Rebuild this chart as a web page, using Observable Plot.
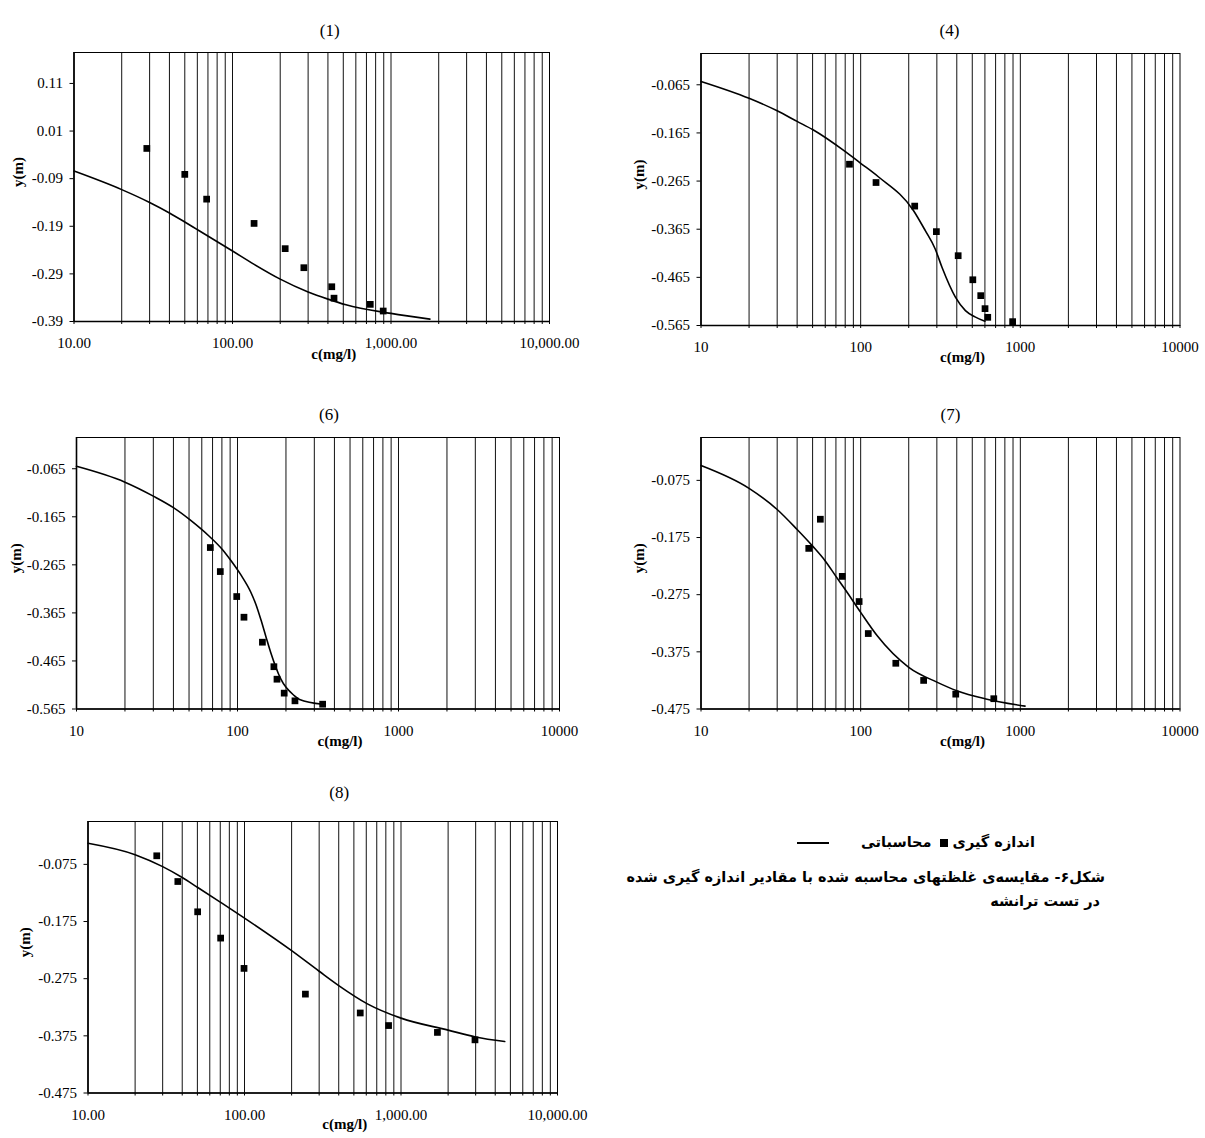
<!DOCTYPE html>
<html>
<head>
<meta charset="utf-8">
<script src="https://cdn.jsdelivr.net/npm/d3@7"></script>
<script src="https://cdn.jsdelivr.net/npm/@observablehq/plot@0.6"></script>
<style>
  html, body { margin: 0; padding: 0; background: #fff; }
  #root { position: relative; width: 1205px; height: 1138px; background: #fff; overflow: hidden; }
  #root svg { position: absolute; }
  .fa { position: absolute; direction: rtl; white-space: nowrap; font-family: "DejaVu Sans", sans-serif; font-weight: bold; font-size: 14.5px; color: #000; }
  .sq { display: inline-block; width: 8px; height: 8px; background: #000; vertical-align: middle; }
  .ln { display: inline-block; width: 32px; height: 0; border-top: 2px solid #000; vertical-align: middle; }
  .gap { display: inline-block; }
</style>
</head>
<body>
<div id="root"></div>
<script>
// ---------- shared axis values ----------
const xDecades = [10, 100, 1000, 10000];
const xGrid = [20, 30, 40, 50, 60, 70, 80, 90, 100, 200, 300, 400, 500, 600, 700, 800, 900, 1000,
               2000, 3000, 4000, 5000, 6000, 7000, 8000, 9000];
const xTicksAll = [10, ...xGrid, 10000];

// ---------- chart (1) ----------
const c1_meas = [28.8, 50, 68.7, 136.8, 215, 282, 423, 437, 740, 893];
const y1_meas = [-0.0265, -0.081, -0.133, -0.184, -0.237, -0.277, -0.317, -0.341, -0.354, -0.368];
const c1_calc = [10, 20, 30, 40, 50, 60, 100, 137, 200, 300, 400, 520, 1000, 1760];
const y1_calc = [-0.074, -0.113, -0.140, -0.162, -0.181, -0.197, -0.242, -0.270, -0.301, -0.328, -0.343, -0.355, -0.373, -0.385];
const y1_ticks = [-0.39, -0.29, -0.19, -0.09, 0.01, 0.11];

// ---------- chart (4) ----------
const c4_meas = [85.1, 124.8, 218, 298, 408, 504, 565, 601, 625, 895];
const y4_meas = [-0.230, -0.268, -0.317, -0.370, -0.420, -0.470, -0.503, -0.530, -0.548, -0.557];
const c4_calc = [10, 20, 30, 40, 50, 81, 100, 129, 214, 254, 293, 323, 392, 453, 520, 600];
const y4_calc = [-0.058, -0.093, -0.119, -0.141, -0.158, -0.205, -0.228, -0.256, -0.326, -0.368, -0.406, -0.444, -0.506, -0.534, -0.547, -0.556];
const y4_ticks = [-0.565, -0.465, -0.365, -0.265, -0.165, -0.065];

// ---------- chart (6) ----------
const c6_meas = [67.8, 78.2, 98.9, 109.7, 142.8, 168.3, 175.9, 195, 227.5, 338];
const y6_meas = [-0.229, -0.279, -0.331, -0.374, -0.426, -0.477, -0.503, -0.532, -0.548, -0.555];
const c6_calc = [10, 20, 30, 40, 51, 67, 81, 91, 105, 121, 130, 140, 150, 161, 173, 186, 225, 243, 338];
const y6_calc = [-0.060, -0.093, -0.122, -0.146, -0.172, -0.206, -0.234, -0.256, -0.286, -0.322, -0.347, -0.380, -0.414, -0.448, -0.478, -0.503, -0.537, -0.545, -0.555];
const y6_ticks = [-0.565, -0.465, -0.365, -0.265, -0.165, -0.065];

// ---------- chart (7) ----------
const c7_meas = [47.3, 55.9, 76.7, 97.8, 111.6, 166, 248, 394, 682];
const y7_meas = [-0.194, -0.143, -0.243, -0.287, -0.343, -0.395, -0.425, -0.449, -0.457];
const c7_calc = [10, 20, 30, 40, 50, 60, 70, 80, 100, 127, 200, 300, 400, 600, 1070];
const y7_calc = [-0.049, -0.089, -0.126, -0.161, -0.190, -0.216, -0.243, -0.266, -0.306, -0.347, -0.402, -0.428, -0.443, -0.457, -0.470];
const y7_ticks = [-0.475, -0.375, -0.275, -0.175, -0.075];

// ---------- chart (8) ----------
const c8_meas = [27.5, 37.5, 50.2, 70.4, 99.3, 245, 549, 833, 1709, 2970];
const y8_meas = [-0.060, -0.105, -0.158, -0.204, -0.257, -0.302, -0.335, -0.357, -0.369, -0.382];
const c8_calc = [10, 20, 30, 40, 50, 70, 100, 200, 300, 400, 610, 1000, 2000, 3000, 4600];
const y8_calc = [-0.038, -0.058, -0.079, -0.098, -0.115, -0.141, -0.169, -0.226, -0.262, -0.287, -0.319, -0.344, -0.365, -0.377, -0.385];
const y8_ticks = [-0.475, -0.375, -0.275, -0.175, -0.075];

// ---------- text ----------
const titles = ["(1)", "(4)", "(6)", "(7)", "(8)"];
const xLabel = "c(mg/l)";
const yLabel = "y(m)";
const legendMeasured = "اندازه گیری";
const legendCalc = "محاسباتی";
const captionLine1 = "شکل۶- مقایسه‌ی غلظتهای محاسبه شده با مقادیر اندازه گیری شده";
const captionLine2 = "در تست ترانشه";

const fmtComma = d3.format(",.2f");
const fmtPlain = d => String(d);

function makeChart(cfg) {
  const meas = cfg.cMeas.map((c, i) => ({c, y: cfg.yMeas[i]}));
  const calc = cfg.cCalc.map((c, i) => ({c, y: cfg.yCalc[i]}));
  const svg = Plot.plot({
    width: cfg.w, height: cfg.h,
    marginLeft: cfg.mL, marginRight: cfg.mR, marginTop: cfg.mT, marginBottom: cfg.mB,
    style: {fontFamily: "'Liberation Serif', 'Times New Roman', serif", fontSize: "15px", color: "#000", background: "transparent", overflow: "visible"},
    x: {type: "log", domain: [10, 10000]},
    y: {domain: cfg.yDomain},
    marks: [
      Plot.ruleX(xGrid, {stroke: "#111", strokeWidth: 1}),
      Plot.frame({stroke: "#000", strokeWidth: 1}),
      Plot.ruleX([10], {stroke: "#000", strokeWidth: 1.6}),
      Plot.ruleY([cfg.yDomain[0]], {stroke: "#000", strokeWidth: 1.6}),
      Plot.axisX({ticks: xTicksAll, tickSize: 3, tickPadding: 13,
        tickFormat: d => xDecades.includes(d) ? cfg.xFmt(d) : "", label: null}),
      Plot.axisY({ticks: cfg.yTicks, tickSize: 4, tickPadding: 7,
        tickFormat: d => d.toFixed(cfg.yDigits), label: null}),
      Plot.line(calc, {x: "c", y: "y", curve: "monotone-x", stroke: "#000", strokeWidth: 1.6}),
      Plot.dot(meas, {x: "c", y: "y", symbol: "square", fill: "#000", r: 3.8}),
      Plot.text([cfg.title], {frameAnchor: "top", dy: cfg.titleDy, dx: cfg.titleDx, fontSize: 17}),
      Plot.text([xLabel], {frameAnchor: "bottom", dy: cfg.xLabelDy, dx: 22, fontWeight: "bold"}),
      Plot.text([yLabel], {frameAnchor: "left", dx: cfg.yLabelDx, rotate: -90, fontWeight: "bold"})
    ]
  });
  svg.style.left = cfg.left + "px";
  svg.style.top = cfg.top + "px";
  return svg;
}

const root = document.getElementById("root");
const configs = [
  {title: titles[0], cMeas: c1_meas, yMeas: y1_meas, cCalc: c1_calc, yCalc: y1_calc, yTicks: y1_ticks, yDigits: 2,
   yDomain: [-0.39, 0.175], xFmt: fmtComma, left: 0, top: 0, w: 600, h: 375, mL: 73.5, mR: 51, mT: 52, mB: 54,
   titleDy: -29, titleDx: 18, yLabelDx: -56, xLabelDy: 37},
  {title: titles[1], cMeas: c4_meas, yMeas: y4_meas, cCalc: c4_calc, yCalc: y4_calc, yTicks: y4_ticks, yDigits: 3,
   yDomain: [-0.565, 0], xFmt: fmtPlain, left: 600, top: 0, w: 605, h: 375, mL: 100.5, mR: 25.5, mT: 53, mB: 50,
   titleDy: -30, titleDx: 9, yLabelDx: -62, xLabelDy: 36},
  {title: titles[2], cMeas: c6_meas, yMeas: y6_meas, cCalc: c6_calc, yCalc: y6_calc, yTicks: y6_ticks, yDigits: 3,
   yDomain: [-0.565, 0], xFmt: fmtPlain, left: 0, top: 380, w: 600, h: 375, mL: 76, mR: 41, mT: 57, mB: 46.5,
   titleDy: -30, titleDx: 11, yLabelDx: -60.5, xLabelDy: 37},
  {title: titles[3], cMeas: c7_meas, yMeas: y7_meas, cCalc: c7_calc, yCalc: y7_calc, yTicks: y7_ticks, yDigits: 3,
   yDomain: [-0.475, 0], xFmt: fmtPlain, left: 600, top: 380, w: 605, h: 375, mL: 100.5, mR: 25.5, mT: 57, mB: 46.5,
   titleDy: -30, titleDx: 10, yLabelDx: -62, xLabelDy: 37},
  {title: titles[4], cMeas: c8_meas, yMeas: y8_meas, cCalc: c8_calc, yCalc: y8_calc, yTicks: y8_ticks, yDigits: 3,
   yDomain: [-0.475, 0], xFmt: fmtComma, left: 0, top: 760, w: 600, h: 378, mL: 87.5, mR: 43, mT: 61, mB: 45.5,
   titleDy: -36, titleDx: 16.5, yLabelDx: -62.5, xLabelDy: 36}
];
for (const cfg of configs) root.appendChild(makeChart(cfg));

// legend + caption (Persian, right-to-left)
const leg = document.createElement("div");
leg.className = "fa";
leg.style.right = "170px";
leg.style.top = "834px";
leg.innerHTML = `<span>${legendMeasured}</span> <span class="sq"></span><span class="gap" style="width:8px"></span><span>${legendCalc}</span><span class="gap" style="width:32px"></span><span class="ln"></span>`;
root.appendChild(leg);

const cap1 = document.createElement("div");
cap1.className = "fa";
cap1.style.right = "100px";
cap1.style.top = "869px";
cap1.textContent = captionLine1;
root.appendChild(cap1);

const cap2 = document.createElement("div");
cap2.className = "fa";
cap2.style.right = "105px";
cap2.style.top = "893px";
cap2.textContent = captionLine2;
root.appendChild(cap2);
</script>
</body>
</html>
